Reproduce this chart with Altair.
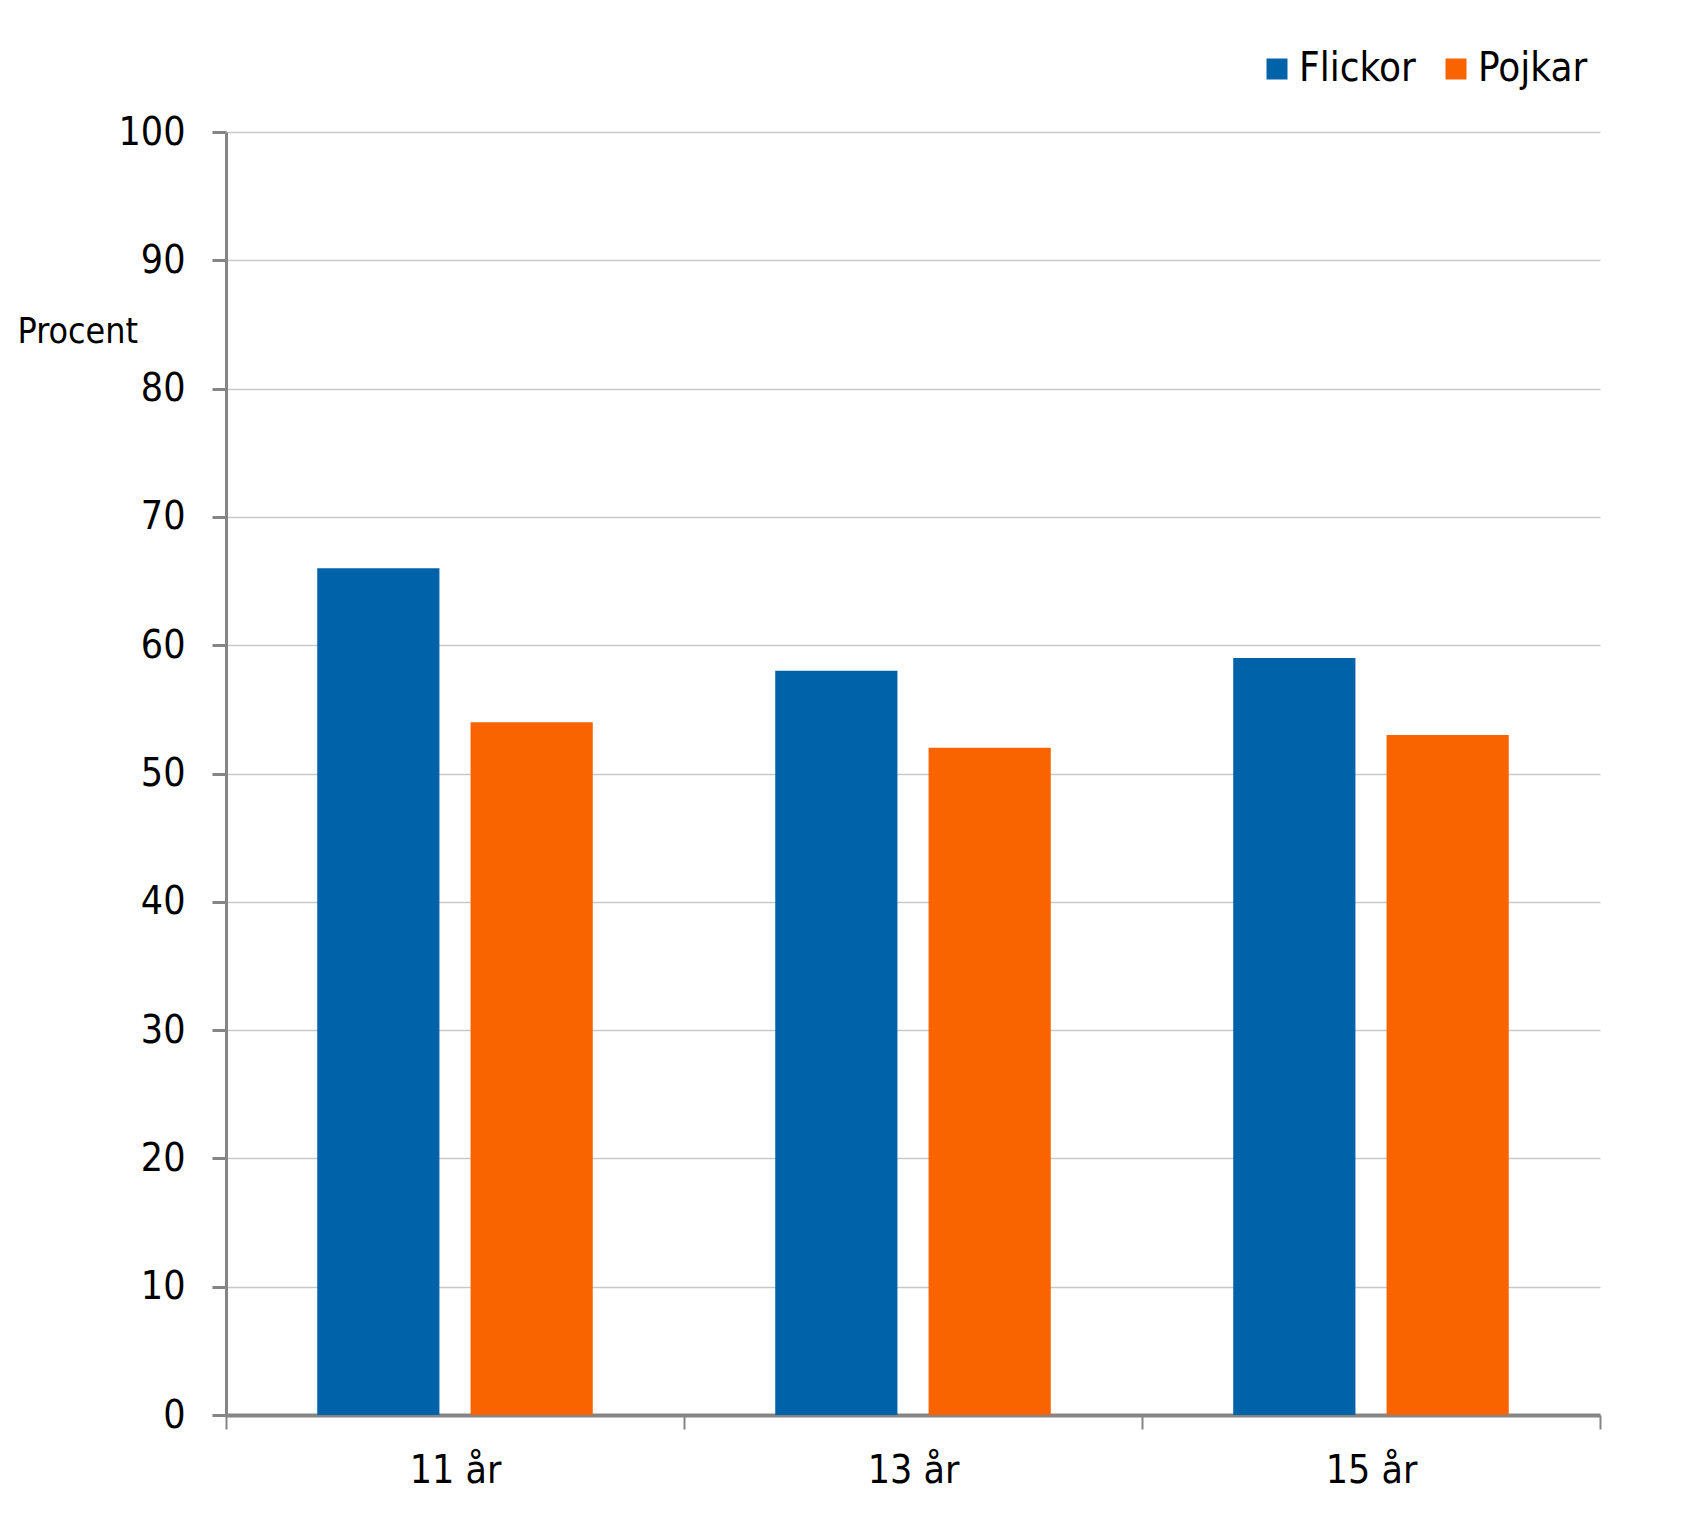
import altair as alt
import pandas as pd

categories = ["11 år", "13 år", "15 år"]
series = ["Flickor", "Pojkar"]
flickor = [66, 58, 59]
pojkar = [54, 52, 53]
colors = ["#0063A9", "#F96400"]
y_ticks = [0, 10, 20, 30, 40, 50, 60, 70, 80, 90, 100]

rows = []
for c, f, p in zip(categories, flickor, pojkar):
    rows.append({"Ålder": c, "Kön": series[0], "Procent": f})
    rows.append({"Ålder": c, "Kön": series[1], "Procent": p})
df = pd.DataFrame(rows)

FONT = "DejaVu Sans Condensed"
AXIS_GREY = "#858585"

chart = alt.Chart(df).mark_bar().encode(
    x=alt.X(
        "Ålder:N",
        sort=categories,
        scale=alt.Scale(paddingInner=0, paddingOuter=0),
        axis=alt.Axis(
            title=None, labelAngle=0, tickBand="extent", grid=False,
            labelFont=FONT, labelFontSize=39, labelColor="#000000",
            labelPadding=22, tickSize=14, tickWidth=2, tickColor=AXIS_GREY,
            domainColor=AXIS_GREY, domainWidth=4,
        ),
    ),
    xOffset=alt.XOffset(
        "Kön:N", sort=series,
        scale=alt.Scale(paddingInner=0.203, paddingOuter=0.595),
    ),
    y=alt.Y(
        "Procent:Q",
        scale=alt.Scale(domain=[0, 100], nice=False),
        axis=alt.Axis(
            values=y_ticks, title="Procent", titleAngle=0,
            titleFont=FONT, titleFontSize=35.5, titleFontWeight="normal",
            titleColor="#000000", titleX=-209, titleY=210,
            titleAlign="left", titleBaseline="alphabetic",
            labelFont=FONT, labelFontSize=39, labelColor="#000000",
            labelPadding=27, tickSize=14, tickWidth=3, tickColor=AXIS_GREY,
            domainColor=AXIS_GREY, domainWidth=3,
            grid=True, gridColor="#C8C8C8", gridWidth=1.5,
        ),
    ),
    color=alt.Color(
        "Kön:N", sort=series,
        scale=alt.Scale(domain=series, range=colors),
        legend=alt.Legend(
            title=None, orient="none", legendX=1031, legendY=-83,
            direction="horizontal", symbolType="square", symbolSize=441,
            symbolStrokeWidth=0, labelFont=FONT, labelFontSize=40,
            labelColor="#000000", labelOffset=2, columnPadding=20,
            padding=0,
        ),
    ),
).properties(
    width=1374,
    height=1283,
    padding={"left": 218, "top": 124, "right": 77, "bottom": 117},
    autosize=alt.AutoSizeParams(type="none"),
    background="#FFFFFF",
).configure_view(stroke=None)

chart.save("out.html", embed_options={"renderer": "svg", "actions": False})
